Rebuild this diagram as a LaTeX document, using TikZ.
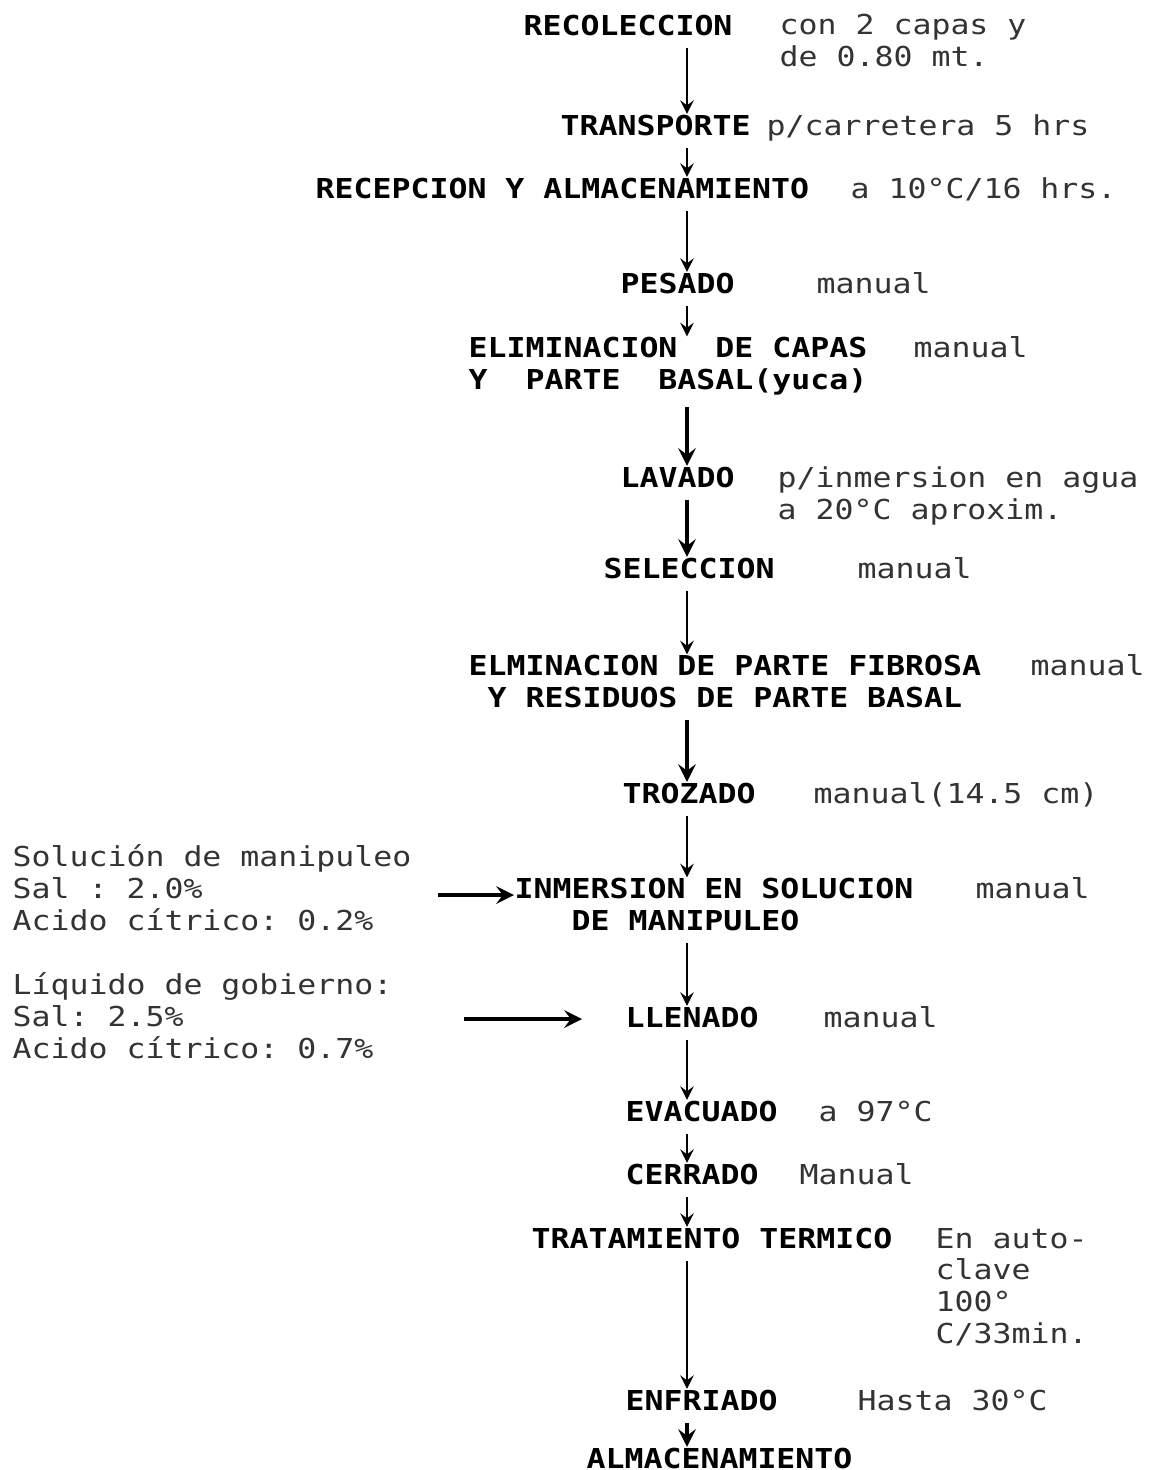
\documentclass[tikz,border=0pt]{standalone}
\usepackage{fontspec}
\setmonofont{DejaVu Sans Mono}[FakeStretch=1.15]
\usepackage{tikz}
\usetikzlibrary{calc}

\tikzset{
  paso/.style={anchor=base west, inner sep=0pt, font=\ttfamily\bfseries\fontsize{7.8}{9}\selectfont, align=left},
  nota/.style={anchor=base west, inner sep=0pt, font=\ttfamily\fontsize{7.8}{9}\selectfont, align=left, black!80},
  flecha/.style={-stealth, line width=0.7pt, shorten <=1.2mm},
  flechag/.style={flecha, line width=1.2pt}
}

\begin{document}
\begin{tikzpicture}[x=0.1mm, y=-0.1mm]
\useasboundingbox (0,0) rectangle (1151,1470);
\pgfmathsetmacro\ejex{687}
\coordinate (eje) at (\ejex,0);
% pasos del proceso (nodos de varias lineas: base = ultima linea)
\node[paso] (recol) at (523,35) {RECOLECCION};
\node[nota] at (779,66) {con 2 capas y\\de 0.80 mt.};
\node[paso] (transp) at (560,135) {TRANSPORTE};
\node[nota] at (766,135) {p/carretera 5 hrs};
\node[paso] (recep) at (315,198) {RECEPCION Y ALMACENAMIENTO};
\node[nota] at (850,198) {a 10°C/16 hrs.};
\node[paso] (pesado) at (620,293) {PESADO};
\node[nota] at (816,293) {manual};
\node[paso] (elim) at (468,389) {ELIMINACION~~DE CAPAS\\Y~~PARTE~~BASAL(yuca)};
\node[nota] at (913,357) {manual};
\node[paso] (lavado) at (620,487) {LAVADO};
\node[nota] at (777,519) {p/inmersion en agua\\a 20°C aproxim.};
\node[paso] (selec) at (603,578) {SELECCION};
\node[nota] at (857,578) {manual};
\node[paso] (elmin) at (468,707) {ELMINACION DE PARTE FIBROSA\\~Y RESIDUOS DE PARTE BASAL};
\node[nota] at (1030,675) {manual};
\node[paso] (trozado) at (622,803) {TROZADO};
\node[nota] at (813,803) {manual(14.5 cm)};
\node[paso] (inmer) at (514,930) {INMERSION EN SOLUCION\\~~~DE MANIPULEO};
\node[nota] at (975,898) {manual};
\node[paso] (llen) at (625,1027) {LLENADO};
\node[nota] at (823,1027) {manual};
\node[paso] (evac) at (625,1121) {EVACUADO};
\node[nota] at (818,1121) {a 97°C};
\node[paso] (cerr) at (625,1184) {CERRADO};
\node[nota] at (799,1184) {Manual};
\node[paso] (trat) at (531,1248) {TRATAMIENTO TERMICO};
\node[nota] at (935,1343) {En auto-\\clave\\100°\\C/33min.};
\node[paso] (enfr) at (625,1410) {ENFRIADO};
\node[nota] at (857,1410) {Hasta 30°C};
\node[paso] (almac) at (586,1468) {ALMACENAMIENTO};
% entradas
\node[nota] (sol) at (12,930) {Solución de manipuleo\\Sal : 2.0\%\\Acido cítrico: 0.2\%};
\node[nota] (liq) at (12,1058) {Líquido de gobierno:\\Sal: 2.5\%\\Acido cítrico: 0.7\%};
\coordinate (ent1) at (438,895);
\coordinate (ent2) at (464,1019);
% flechas
\draw[flecha] (recol.south -| eje) -- (transp.north -| eje);
\draw[flecha] (transp.south -| eje) -- (recep.north -| eje);
\draw[flecha] (recep.south -| eje) -- (pesado.north -| eje);
\draw[flecha] (pesado.south -| eje) -- (elim.north -| eje);
\draw[flechag] (elim.south -| eje) -- (lavado.north -| eje);
\draw[flechag] (lavado.south -| eje) -- (selec.north -| eje);
\draw[flecha] (selec.south -| eje) -- (elmin.north -| eje);
\draw[flechag] (elmin.south -| eje) -- (trozado.north -| eje);
\draw[flecha] (trozado.south -| eje) -- (inmer.north -| eje);
\draw[flecha] (inmer.south -| eje) -- (llen.north -| eje);
\draw[flecha] (llen.south -| eje) -- (evac.north -| eje);
\draw[flecha] (evac.south -| eje) -- (cerr.north -| eje);
\draw[flecha] (cerr.south -| eje) -- (trat.north -| eje);
\draw[flecha] (trat.south -| eje) -- (enfr.north -| eje);
\draw[flechag] (enfr.south -| eje) -- (almac.north -| eje);
\draw[flechag, shorten <=0pt] (ent1) -- (ent1 -| inmer.west);
\draw[flechag, shorten <=0pt, shorten >=4.3mm] (ent2) -- (ent2 -| llen.west);
\end{tikzpicture}
\end{document}
